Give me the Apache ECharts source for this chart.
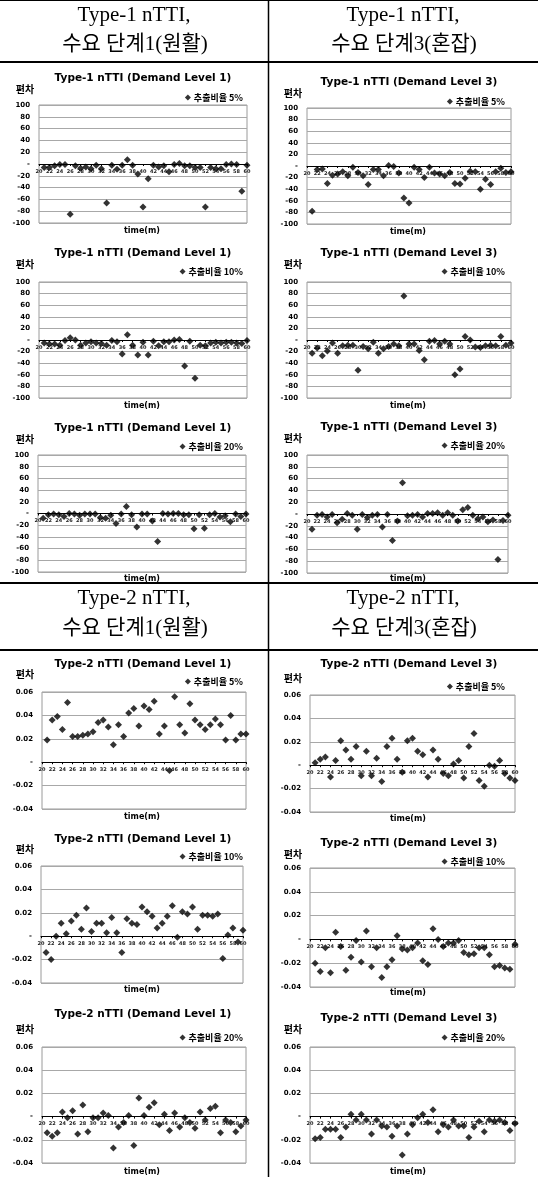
<!DOCTYPE html>
<html><head><meta charset="utf-8">
<script src="https://cdn.jsdelivr.net/npm/echarts@6/dist/echarts.min.js"></script>
<style>html,body{margin:0;padding:0;background:#fff}#c{width:538px;height:1177px}</style>
</head><body><div id="c"></div>
<script>
// ---------- data ----------
const times = [21,22,23,24,25,26,27,28,29,30,31,32,33,34,35,36,37,38,39,40,41,42,43,44,45,46,47,48,49,50,51,52,53,54,55,56,57,58,59,60];
const headerTop = ['Type-1 nTTI,', '수요 단계1(원활)', 'Type-1 nTTI,', '수요 단계3(혼잡)'];
const headerBottom = ['Type-2 nTTI,', '수요 단계1(원활)', 'Type-2 nTTI,', '수요 단계3(혼잡)'];
const chartTitles = ['Type-1 nTTI (Demand Level 1)', 'Type-1 nTTI (Demand Level 3)', 'Type-2 nTTI (Demand Level 1)', 'Type-2 nTTI (Demand Level 3)'];
const seriesNames = ['추출비율 5%', '추출비율 10%', '추출비율 20%'];
const yName = '편차';
const xName = 'time(m)';

const t1_dl1_5  = [-6,-6,-3,-1,-1,-85,-3,-7,-5,-8,-2,-8,-66,-2,-9,-2,7,-2,-17,-73,-25,-2,-5,-3,-13,-1,1,-3,-3,-6,-6,-73,-6,-8,-8,-1,0,-1,-46,-2];
const t1_dl3_5  = [-78,-6,-5,-30,-16,-14,-10,-17,-2,-11,-17,-32,-6,-6,-17,1,-1,-12,-55,-64,-2,-6,-20,-2,-12,-14,-17,-11,-30,-31,-21,-9,-10,-40,-23,-32,-10,-4,-11,-10];
const t1_dl1_10 = [-5,-7,-7,-9,-1,4,0,-9,-5,-3,-5,-6,-9,-1,-3,-24,9,-9,-26,-4,-26,-2,-10,-3,-3,0,1,-45,-2,-66,-9,-10,-5,-4,-5,-4,-4,-5,-6,-1];
const t1_dl3_10 = [-23,-14,-27,-19,-5,-23,-10,-9,-9,-52,-11,-15,-4,-23,-15,-11,-7,-10,76,-7,-7,-18,-34,-2,-1,-7,-2,-7,-60,-50,6,0,-12,-13,-10,-9,-10,6,-9,-5];
const t1_dl1_20 = [-8,-2,-1,-2,-5,0,-1,-3,-1,-1,-1,-7,-8,-3,-17,-1,12,-2,-23,-1,-1,-13,-48,0,-1,0,0,-2,-2,-26,-2,-25,-2,0,-6,-4,-14,-1,-5,-1];
const t1_dl3_20 = [-26,-2,-1,-5,-1,-15,-9,1,-2,-26,-1,-6,-2,-1,-22,-1,-45,-12,53,-3,-2,-1,-5,1,1,2,-2,2,-2,-12,7,11,-2,-8,-5,-13,-10,-77,-11,-2];
const t2_dl1_5  = [0.019,0.036,0.039,0.028,0.051,0.022,0.022,0.023,0.024,0.026,0.034,0.036,0.030,0.015,0.032,0.022,0.042,0.046,0.031,0.048,0.045,0.052,0.024,0.031,-0.007,0.056,0.032,0.025,0.050,0.036,0.032,0.028,0.032,0.037,0.032,0.019,0.040,0.019,0.024,0.024];
const t2_dl3_5  = [0.002,0.005,0.007,-0.010,0.004,0.021,0.013,0.005,0.016,-0.009,0.012,-0.009,0.006,-0.014,0.016,0.023,0.005,-0.006,0.021,0.023,0.012,0.009,-0.010,0.013,0.005,-0.007,-0.009,0.001,0.004,-0.011,0.016,0.027,-0.013,-0.018,0.000,-0.001,0.004,-0.007,-0.011,-0.013];
const t2_dl1_10 = [-0.014,-0.020,0.000,0.011,0.002,0.013,0.018,0.006,0.024,0.004,0.011,0.011,0.003,0.016,0.003,-0.014,0.015,0.011,0.010,0.025,0.021,0.017,0.007,0.011,0.017,0.026,-0.001,0.021,0.019,0.025,0.006,0.018,0.018,0.017,0.019,-0.019,0.001,0.007,-0.005,0.005];
const t2_dl3_10 = [-0.020,-0.027,-0.007,-0.028,0.006,-0.006,-0.026,-0.015,-0.001,-0.019,0.007,-0.023,-0.007,-0.032,-0.023,-0.017,0.003,-0.008,-0.009,-0.007,-0.003,-0.018,-0.021,0.009,0.000,-0.006,-0.003,-0.003,-0.001,-0.011,-0.013,-0.012,-0.007,-0.007,-0.013,-0.023,-0.022,-0.024,-0.025,-0.004];
const t2_dl1_20 = [-0.014,-0.017,-0.014,0.004,-0.001,0.005,-0.015,0.010,-0.013,-0.001,-0.001,0.003,0.001,-0.027,-0.009,-0.005,0.001,-0.025,0.016,0.001,0.008,0.012,-0.007,0.002,-0.012,0.003,-0.009,-0.001,-0.005,-0.010,0.004,-0.003,0.007,0.009,-0.014,-0.003,-0.005,-0.013,-0.008,-0.003];
const t2_dl3_20 = [-0.019,-0.018,-0.011,-0.011,-0.011,-0.018,-0.009,0.002,-0.003,0.002,-0.003,-0.015,-0.003,-0.008,-0.009,-0.017,-0.008,-0.033,-0.015,-0.007,-0.001,0.002,-0.005,0.006,-0.013,-0.007,-0.009,-0.003,-0.008,-0.008,-0.018,-0.009,-0.004,-0.013,-0.003,-0.004,-0.003,-0.005,-0.012,-0.006];

// y-axis ranges per chart type
const yRange = {1: {min: -100, max: 100, step: 20}, 2: {min: -0.04, max: 0.06, step: 0.02}};

// ---------- layout (positions only) ----------
// [dataArr, titleIdx, nameIdx, type, gl, gr, gt, gb, titleY, nameY, legY, timeY]
const panels = [
  [t1_dl1_5, 0, 0, 1, 39, 247, 105, 223, 79, 89, 99, 231],
  [t1_dl3_5, 1, 0, 1, 307, 511, 108, 224, 83, 93, 103, 232],
  [t1_dl1_10, 0, 1, 1, 39, 247, 282, 398, 254, 264, 273, 406],
  [t1_dl3_10, 1, 1, 1, 307, 511, 282, 398, 254, 264, 273, 406],
  [t1_dl1_20, 0, 2, 1, 38, 246, 455, 572, 429, 439, 448, 579],
  [t1_dl3_20, 1, 2, 1, 307, 508, 455, 573, 428, 438, 447, 579],
  [t2_dl1_5, 2, 0, 2, 42, 246, 692, 809, 665, 674, 683, 817],
  [t2_dl3_5, 3, 0, 2, 310, 515, 695, 812, 665, 678, 688, 819],
  [t2_dl1_10, 2, 1, 2, 41, 243, 866, 983, 840, 849, 858, 990],
  [t2_dl3_10, 3, 1, 2, 310, 515, 868, 987, 844, 854, 863, 993],
  [t2_dl1_20, 2, 2, 2, 42, 246, 1047, 1163, 1015, 1029, 1039, 1172],
  [t2_dl3_20, 3, 2, 2, 310, 515, 1047, 1163, 1019, 1029, 1039, 1172]
];

const W = 538;
const BOLD = "'DejaVu Sans', sans-serif";
const KR = "'Noto Sans CJK KR', sans-serif";
const SERIF = "'Liberation Serif', 'Noto Sans CJK KR', serif";

const grid = [], xAxis = [], yAxis = [], series = [], title = [], legend = [], graphic = [];

panels.forEach((p, i) => {
  const [arr, ti, ni, type, gl, gr, gt, gb, titleY, nameY, legY, timeY] = p;
  const isLeft = gl < 268;
  const colCenter = isLeft ? 143 : 409;
  const yr = yRange[type];
  const h = gb - gt;
  // put the x axis (line + labels) where the y scale is zero
  const zeroShift = -h * (0 - yr.min) / (yr.max - yr.min);
  grid.push({left: gl, top: gt, width: gr - gl, height: h, show: true, borderColor: '#9a9a9a', borderWidth: 1, backgroundColor: '#fff', containLabel: false});
  xAxis.push({
    gridIndex: i, type: 'value', min: 20, max: 60, interval: 2, position: 'bottom', offset: zeroShift,
    axisLine: {onZero: false, lineStyle: {color: '#000', width: 1}},
    axisTick: {show: true, length: 2, lineStyle: {color: '#000'}},
    axisLabel: {fontSize: 5, fontWeight: 'bold', fontFamily: BOLD, color: '#222', margin: 5, showMinLabel: true, showMaxLabel: true},
    splitLine: {show: false}, z: 3
  });
  yAxis.push({
    gridIndex: i, type: 'value', min: yr.min, max: yr.max, interval: yr.step,
    axisLine: {show: false}, axisTick: {show: false},
    axisLabel: {fontSize: 7, fontWeight: 'bold', fontFamily: BOLD, color: '#000', margin: 9,
      formatter: v => Math.abs(v) < 1e-9 ? '-' : (type === 1 ? String(v) : v.toFixed(2))},
    splitLine: {lineStyle: {color: '#a8a8a8', width: 1}}
  });
  series.push({
    type: 'scatter', name: seriesNames[ni], xAxisIndex: i, yAxisIndex: i,
    data: times.map((t, k) => [t, arr[k]]),
    symbol: 'diamond', symbolSize: 7, itemStyle: {color: '#000'}, silent: true, z: 5
  });
  title.push({
    text: chartTitles[ti], left: colCenter, top: titleY - 6, textAlign: 'center', padding: 0,
    textStyle: {fontSize: 10.5, fontWeight: 'bold', fontFamily: BOLD, color: '#000'}
  });
  legend.push({
    data: [seriesNames[ni]], right: W - (isLeft ? 243 : 505), top: legY - 6, padding: 0,
    icon: 'diamond', itemWidth: 6, itemHeight: 6, selectedMode: false,
    textStyle: {fontSize: 9, fontWeight: 'bold', fontFamily: KR, color: '#000', padding: [0, 0, 0, -2]}
  });
  graphic.push({type: 'text', x: isLeft ? 25 : 293, y: nameY, silent: true,
    style: {text: yName, fill: '#000', font: "bold 10px " + KR, align: 'center', verticalAlign: 'middle', textAlign: 'center', textVerticalAlign: 'middle'}});
  graphic.push({type: 'text', x: colCenter - 1, y: timeY, silent: true,
    style: {text: xName, fill: '#000', font: "bold 8px " + BOLD, align: 'center', verticalAlign: 'middle', textAlign: 'center', textVerticalAlign: 'middle'}});
});

// header texts
const hdr = (txt, x, y) => ({type: 'text', x, y, silent: true,
  style: {text: txt, fill: '#000', font: "21px " + SERIF, align: 'center', verticalAlign: 'middle', textAlign: 'center', textVerticalAlign: 'middle'}});
graphic.push(hdr(headerTop[0], 134, 15), hdr(headerTop[1], 135, 44), hdr(headerTop[2], 403, 15), hdr(headerTop[3], 404, 44));
graphic.push(hdr(headerBottom[0], 134, 598), hdr(headerBottom[1], 135, 628), hdr(headerBottom[2], 403, 598), hdr(headerBottom[3], 404, 628));

// table lines
const line = (x1, y1, x2, y2, w) => ({type: 'line', silent: true, shape: {x1, y1, x2, y2}, style: {stroke: '#000', lineWidth: w}});
graphic.push(line(0, 0.5, W, 0.5, 1), line(0, 62, W, 62, 2), line(0, 583, W, 583, 2), line(0, 650, W, 650, 2), line(268.5, 0, 268.5, 1177, 1.5));

const chart = echarts.init(document.getElementById('c'), null, {renderer: 'canvas'});
chart.setOption({animation: false, backgroundColor: '#fff', grid, xAxis, yAxis, series, title, legend, graphic});
</script>
</body></html>
